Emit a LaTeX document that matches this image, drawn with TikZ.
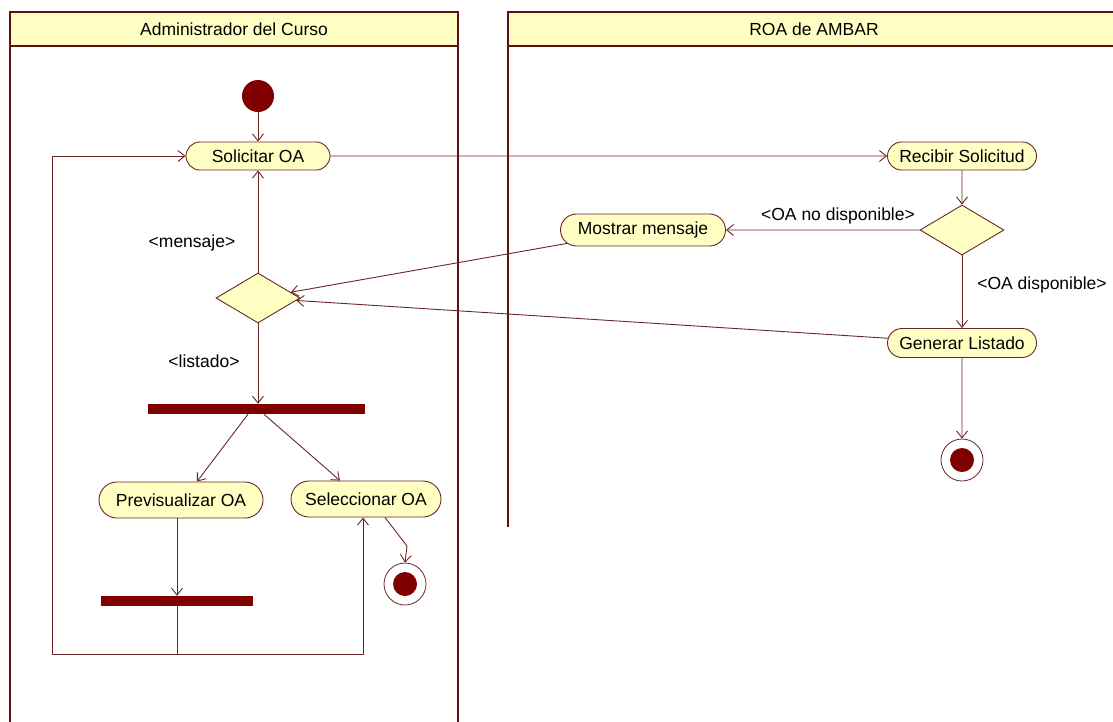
\documentclass[tikz,border=0pt]{standalone}
\usepackage{fontspec}
\setmainfont{Liberation Sans}
\usetikzlibrary{shapes.misc,shapes.geometric,arrows.meta}
\definecolor{umlline}{HTML}{6A2626}
\definecolor{umllane}{HTML}{5E1010}
\definecolor{umlfill}{HTML}{FFFFC4}
\definecolor{umldark}{HTML}{800000}

\begin{document}
\begin{tikzpicture}[x=1pt,y=-1pt,
  font=\fontsize{17.5}{20}\selectfont,
  act/.style={rounded rectangle, draw=umlline, fill=umlfill, line width=0.9pt,
    inner xsep=4pt, inner ysep=0pt},
  dec/.style={diamond, draw=umlline, fill=umlfill, line width=0.9pt,
    minimum width=84pt, minimum height=50pt, inner sep=0pt},
  bar/.style={rectangle, fill=umldark, inner sep=0pt, minimum height=10pt},
  startnode/.style={circle, fill=umldark, inner sep=0pt, minimum size=32pt},
  endnode/.style={circle, draw=umlline, line width=0.8pt, fill=white,
    inner sep=0pt, minimum size=42pt,
    path picture={\fill[umldark] (path picture bounding box.center) circle (12pt);}},
  flow/.style={draw=umlline, line width=0.9pt,
    -{Straight Barb[length=7pt,width=11pt,line width=0.9pt]}},
  plain/.style={draw=umlline, line width=0.9pt},
  lane/.style={draw=umllane, line width=2.6pt},
  header/.style={fill=umlfill},
  guard/.style={inner sep=0pt}
]
\useasboundingbox (0,0) rectangle (1113,721);

% swimlanes
\fill[header] (10,12) rectangle (458,46);
\fill[header] (508,12) rectangle (1125,46);
\draw[lane] (10,740) -- (10,12) -- (458,12) -- (458,740);
\draw[lane] (10,46) -- (458,46);
\draw[lane] (508,527) -- (508,12) -- (1125,12);
\draw[lane] (508,46) -- (1125,46);
\node (laneA) at (234,29) {Administrador del Curso};
\node (laneB) at (814,29) {ROA de AMBAR};

% left lane activities
\node[startnode] (start) at (258,96) {};
\node[act, minimum width=152pt, minimum height=28pt] (sol) at (258,156) {Solicitar OA};
\node[dec] (ldec) at (258,298) {};
\node[bar, minimum width=217pt] (fork) at (256,409) {};
\node[act, minimum width=172pt, minimum height=36pt] (prev) at (181,500) {Previsualizar OA};
\node[act, minimum width=158pt, minimum height=36pt] (sel) at (366,499) {Seleccionar OA};
\node[bar, minimum width=152pt] (join) at (177,601) {};
\node[endnode] (finL) at (405,584) {};

% right lane activities
\node[act, minimum width=157pt, minimum height=28pt] (rec) at (962,156) {Recibir Solicitud};
\node[dec] (rdec) at (962,230) {};
\node[act, minimum width=173pt, minimum height=32pt] (most) at (643,230) {Mostrar mensaje};
\node[act, minimum width=157pt, minimum height=29pt] (gen) at (962,343) {Generar Listado};
\node[endnode] (finR) at (962,460) {};

% routing points
\coordinate (lb) at (177,654);
\coordinate (loopL) at (52,654);
\coordinate (loopR) at (363,654);
\coordinate (bend) at (407,546);

% flows
\draw[flow] (start) -- (sol);
\draw[flow] (sol) -- (rec);
\draw[flow] (rec) -- (rdec);
\draw[flow] (rdec) -- (most);
\draw[flow] (rdec) -- (gen);
\draw[flow] (gen) -- (finR);
\draw[flow] (most) -- (ldec);
\draw[flow] (gen) -- (ldec);
\draw[flow] (ldec) -- (sol);
\draw[flow] (ldec.south) -- (ldec.south |- fork.north);
\draw[flow] ([xshift=-8pt]fork.south) -- ([xshift=16pt]prev.north);
\draw[flow] ([xshift=8pt]fork.south) -- ([xshift=-26pt]sel.north);
\draw[flow] (join.north |- prev.south) -- (join.north);
\draw[plain] (join.south) -- (lb);
\draw[flow] (lb) -- (loopL) |- (sol.west);
\draw[flow] (lb) -- (loopR) -- (loopR |- sel.south);
\draw[flow] ([xshift=19pt]sel.south) -- (bend) -- (finL.north);

% guards
\node[guard] (gNo) at (838,216) {<OA no disponible>};
\node[guard] (gSi) at (1042,285) {<OA disponible>};
\node[guard] (gMsg) at (192,243) {<mensaje>};
\node[guard] (gList) at (204,361) {<listado>};
\end{tikzpicture}
\end{document}
